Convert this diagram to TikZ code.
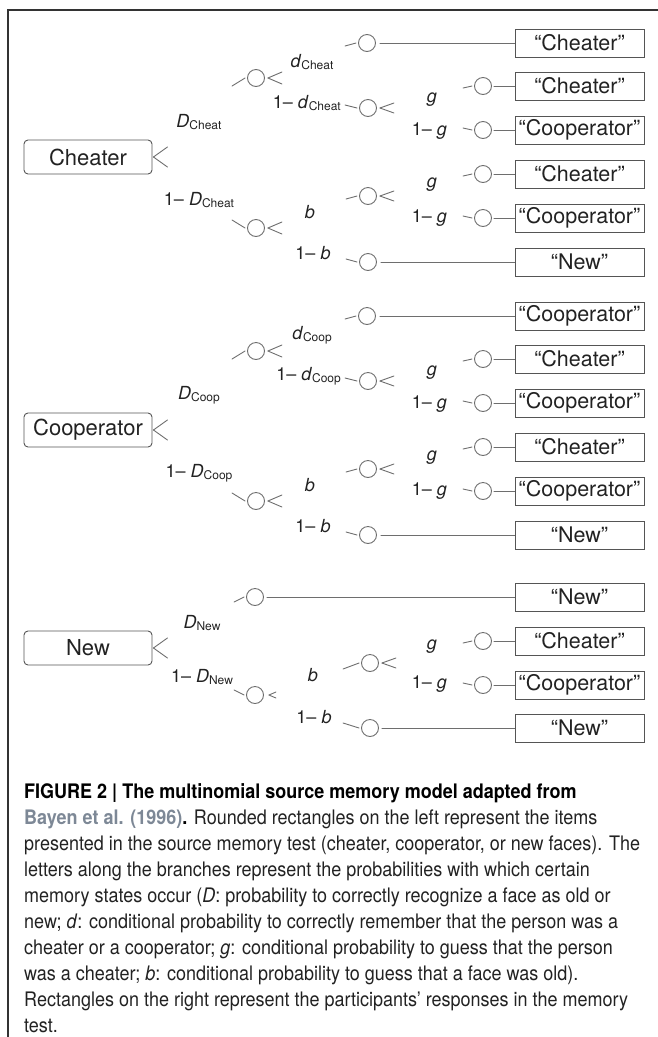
\documentclass[tikz,border=0pt]{standalone}
\usepackage{fontspec}
\setmainfont{TeX Gyre Heros}
\newfontfamily\capfont[FakeStretch=0.9]{TeX Gyre Heros}
\definecolor{wiregray}{HTML}{6E6E6E}
\definecolor{boxgray}{HTML}{555555}
\definecolor{inkgray}{HTML}{222222}
\definecolor{refblue}{HTML}{7D8896}
\newcommand{\prm}[2]{\textit{#1}\raisebox{-1.5pt}{\fontsize{12}{12}\selectfont #2}}

\tikzset{
  wire/.style={draw=wiregray, line width=0.9pt, line cap=round},
  state/.style={circle, draw=wiregray, line width=0.9pt, minimum size=17pt, inner sep=0pt},
  item/.style={draw=boxgray, line width=0.9pt, rounded corners=4pt, minimum width=128pt,
    minimum height=34pt, inner sep=0pt, font=\fontsize{22}{22}\selectfont, text=inkgray},
  resp/.style={draw=boxgray, line width=0.9pt, minimum width=129pt, minimum height=28pt,
    inner sep=0pt, font=\fontsize{21.5}{21.5}\selectfont, text=inkgray},
  lbl/.style={inner sep=0pt, font=\fontsize{18}{18}\selectfont, text=inkgray},
  stub/.style args={#1/#2}{append after command={
    ([shift={(-#1,#2)}]\tikzlastnode.west) edge[wire] ([shift={(-2,0)}]\tikzlastnode.west)}},
  fork/.style args={#1/#2/#3}{append after command={
    ([shift={(#1+#2,-#3)}]\tikzlastnode.east) edge[wire] ([shift={(#1,0)}]\tikzlastnode.east)
    ([shift={(#1,0)}]\tikzlastnode.east) edge[wire] ([shift={(#1+#2,#3)}]\tikzlastnode.east)}}
}

\begin{document}
\begin{tikzpicture}[x=1pt, y=-1pt]
  \useasboundingbox (0,0) rectangle (657,1037);
  \draw[line width=1.2pt, draw=black!80] (8,1037) -- (8,10) -- (658,10);

  % Cheater
  \node[item, fork=1/14/10] (item1) at (88,157) {Cheater};
    \node[state, stub=15/8, fork=3/14/6] (det1) at (256,78) {};
    \node[state, stub=15/-8, fork=3/14/6] (undet1) at (256,228) {};
    \node[state, stub=13/3] (src1) at (367,43) {};
    \node[state, stub=14/-3, fork=3/14/5] (nosrc1) at (368,108) {};
    \node[state, stub=11/2] (gch1) at (483,86) {};
    \node[state, stub=11/-2] (gco1) at (483,130) {};
    \node[state, stub=13/3, fork=3/14/5] (old1) at (368,196) {};
    \node[state, stub=13/-3] (new1) at (368,262) {};
    \node[state, stub=11/2] (ogch1) at (483,174) {};
    \node[state, stub=11/-2] (ogco1) at (483,218) {};
    \node[resp] (r1-1) at (579.5,43) {“Cheater”};
    \node[resp] (r1-2) at (579.5,86) {“Cheater”};
    \node[resp] (r1-3) at (579.5,130) {“Cooperator”};
    \node[resp] (r1-4) at (579.5,174) {“Cheater”};
    \node[resp] (r1-5) at (579.5,218) {“Cooperator”};
    \node[resp] (r1-6) at (579.5,262) {“New”};
    \draw[wire, shorten <=4pt] (src1) -- (r1-1);
    \draw[wire, shorten <=2pt] (gch1) -- (r1-2);
    \draw[wire, shorten <=2pt] (gco1) -- (r1-3);
    \draw[wire, shorten <=2pt] (ogch1) -- (r1-4);
    \draw[wire, shorten <=2pt] (ogco1) -- (r1-5);
    \draw[wire, shorten <=4pt] (new1) -- (r1-6);
    \node[lbl] (lD1) at (199,122) {\prm{D}{Cheat}};
    \node[lbl] (lnD1) at (199,200) {1– \prm{D}{Cheat}};
    \node[lbl] (ld1) at (312,62) {\prm{d}{Cheat}};
    \node[lbl, anchor=east] (lnd1) at (341,103) {1– \prm{d}{Cheat}};
    \node[lbl] (lg1) at (432,100) {\textit{g}};
    \node[lbl, anchor=east] (lng1) at (447,131) {1– \textit{g}};
    \node[lbl] (lb1) at (310,212) {\textit{b}};
    \node[lbl] (lnb1) at (313,253) {1– \textit{b}};
    \node[lbl] (log1) at (432,185) {\textit{g}};
    \node[lbl, anchor=east] (long1) at (447,218) {1– \textit{g}};

  % Cooperator
  \node[item, fork=1/14/10] (item2) at (88,430) {Cooperator};
    \node[state, stub=15/8, fork=3/14/6] (det2) at (256,351) {};
    \node[state, stub=15/-8, fork=3/14/6] (undet2) at (256,501) {};
    \node[state, stub=13/3] (src2) at (367,316) {};
    \node[state, stub=14/-3, fork=3/14/5] (nosrc2) at (368,381) {};
    \node[state, stub=11/2] (gch2) at (483,359) {};
    \node[state, stub=11/-2] (gco2) at (483,403) {};
    \node[state, stub=13/3, fork=3/14/5] (old2) at (368,469) {};
    \node[state, stub=13/-3] (new2) at (368,535) {};
    \node[state, stub=11/2] (ogch2) at (483,447) {};
    \node[state, stub=11/-2] (ogco2) at (483,491) {};
    \node[resp] (r2-1) at (579.5,316) {“Cooperator”};
    \node[resp] (r2-2) at (579.5,359) {“Cheater”};
    \node[resp] (r2-3) at (579.5,403) {“Cooperator”};
    \node[resp] (r2-4) at (579.5,447) {“Cheater”};
    \node[resp] (r2-5) at (579.5,491) {“Cooperator”};
    \node[resp] (r2-6) at (579.5,535) {“New”};
    \draw[wire, shorten <=4pt] (src2) -- (r2-1);
    \draw[wire, shorten <=2pt] (gch2) -- (r2-2);
    \draw[wire, shorten <=2pt] (gco2) -- (r2-3);
    \draw[wire, shorten <=2pt] (ogch2) -- (r2-4);
    \draw[wire, shorten <=2pt] (ogco2) -- (r2-5);
    \draw[wire, shorten <=4pt] (new2) -- (r2-6);
    \node[lbl] (lD2) at (199,395) {\prm{D}{Coop}};
    \node[lbl] (lnD2) at (199,473) {1– \prm{D}{Coop}};
    \node[lbl] (ld2) at (312,335) {\prm{d}{Coop}};
    \node[lbl, anchor=east] (lnd2) at (341,376) {1– \prm{d}{Coop}};
    \node[lbl] (lg2) at (432,373) {\textit{g}};
    \node[lbl, anchor=east] (lng2) at (447,404) {1– \textit{g}};
    \node[lbl] (lb2) at (310,485) {\textit{b}};
    \node[lbl] (lnb2) at (313,526) {1– \textit{b}};
    \node[lbl] (log2) at (432,458) {\textit{g}};
    \node[lbl, anchor=east] (long2) at (447,491) {1– \textit{g}};

  % New
  \node[item, fork=1/14/10] (item3) at (88,648) {New};
    \node[state, stub=12/5] (det3) at (255,597) {};
    \node[state, stub=12/-5, fork=5/7/3] (undet3) at (255,695) {};
    \node[state, stub=18/6, fork=3/14/5] (old3) at (370,663) {};
    \node[state, stub=18/-5] (new3) at (370,728) {};
    \node[state, stub=11/2] (ogch3) at (483,641) {};
    \node[state, stub=11/-2] (ogco3) at (483,685) {};
    \node[resp] (r3-1) at (579.5,597) {“New”};
    \node[resp] (r3-2) at (579.5,641) {“Cheater”};
    \node[resp] (r3-3) at (579.5,685) {“Cooperator”};
    \node[resp] (r3-4) at (579.5,728) {“New”};
    \draw[wire, shorten <=3pt] (det3) -- (r3-1);
    \draw[wire, shorten <=2pt] (ogch3) -- (r3-2);
    \draw[wire, shorten <=2pt] (ogco3) -- (r3-3);
    \draw[wire, shorten <=3pt] (new3) -- (r3-4);
    \node[lbl] (lD3) at (202,623) {\prm{D}{New}};
    \node[lbl] (lnD3) at (202,677) {1– \prm{D}{New}};
    \node[lbl] (lb3) at (313,675) {\textit{b}};
    \node[lbl] (lnb3) at (314,717) {1– \textit{b}};
    \node[lbl] (log3) at (432,647) {\textit{g}};
    \node[lbl, anchor=east] (long3) at (447,684) {1– \textit{g}};

  % caption
  \node[anchor=north west, inner sep=0pt, align=left, text=inkgray,
    font=\capfont\fontsize{20}{26}\selectfont] (caption) at (24,783) {%
    {\bfseries\color{black}FIGURE 2 | The multinomial source memory model adapted from}\\
    {\bfseries\color{refblue}Bayen et al. (1996)}{\bfseries\color{black}.} Rounded rectangles on the left represent the items\\
    presented in the source memory test (cheater, cooperator, or new faces). The\\
    letters along the branches represent the probabilities with which certain\\
    memory states occur (\textit{D}: probability to correctly recognize a face as old or\\
    new; \textit{d}: conditional probability to correctly remember that the person was a\\
    cheater or a cooperator; \textit{g}: conditional probability to guess that the person\\
    was a cheater; \textit{b}: conditional probability to guess that a face was old).\\
    Rectangles on the right represent the participants’ responses in the memory\\
    test.};
\end{tikzpicture}
\end{document}
